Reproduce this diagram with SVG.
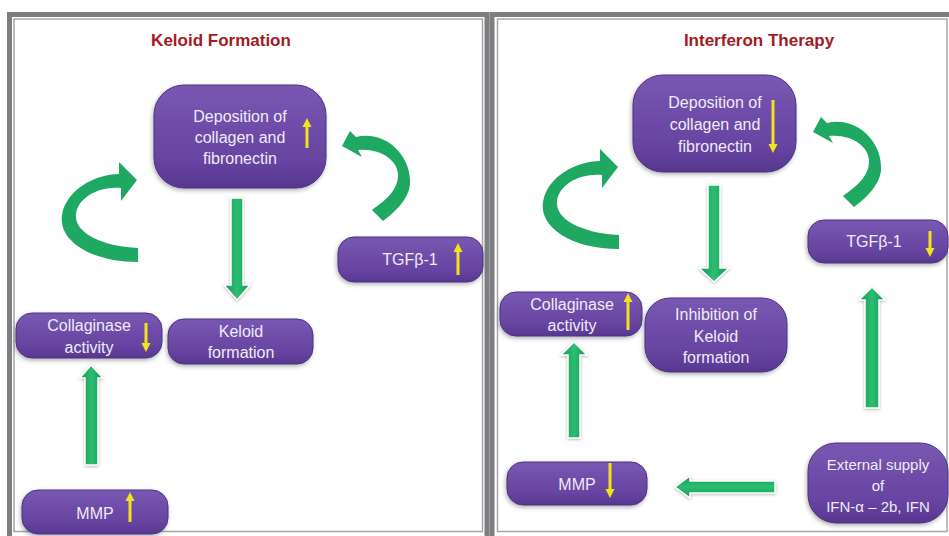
<svg xmlns="http://www.w3.org/2000/svg" width="949" height="536" viewBox="0 0 949 536">
<defs>
<linearGradient id="purp" x1="0" y1="0" x2="0" y2="1">
<stop offset="0" stop-color="#7858b2"/>
<stop offset="0.75" stop-color="#6643a0"/>
<stop offset="1" stop-color="#563790"/>
</linearGradient>
<linearGradient id="grnV" x1="0" y1="0" x2="1" y2="0">
<stop offset="0" stop-color="#14985a"/>
<stop offset="0.5" stop-color="#2cbd70"/>
<stop offset="1" stop-color="#14985a"/>
</linearGradient>
<linearGradient id="grnH" x1="0" y1="0" x2="0" y2="1">
<stop offset="0" stop-color="#14985a"/>
<stop offset="0.5" stop-color="#2cbd70"/>
<stop offset="1" stop-color="#14985a"/>
</linearGradient>
<filter id="sh" x="-20%" y="-20%" width="140%" height="150%">
<feDropShadow dx="-1" dy="2" stdDeviation="2" flood-color="#555" flood-opacity="0.45"/>
</filter>
<filter id="glow" x="-40%" y="-20%" width="180%" height="140%">
<feDropShadow dx="0" dy="1" stdDeviation="1.5" flood-color="#888" flood-opacity="0.6"/>
</filter>
<path id="curlL" d="M138,262 C90,262 58,240 62,215 C66,190 95,174 119,174 L119,162 L137,180 L121,201 L121,188 C98,186 78,198 76,214 C74,232 100,246 138,248 Z"/>
<path id="curlR" d="M350,131 L356,137 C385,130 412,155 410,185 C408,200 395,212 383,221 L372,210 C386,200 398,190 398,175 C398,160 380,148 358,150 L362,157 L342,146 Z"/>
</defs>
<style>
.frame{fill:none;stroke:#7d7e80;stroke-width:5}
.inner{fill:none;stroke:#a6a6a8;stroke-width:1.5}
.title{font-family:"Liberation Sans",Arial,sans-serif;font-weight:bold;font-size:17px;fill:#a11b22;text-anchor:middle}
.box{fill:url(#purp);stroke:#4e3184;stroke-width:1;filter:url(#sh)}
.lbl{font-family:"Liberation Sans",Arial,sans-serif;font-size:16px;fill:#efeaf6;text-anchor:middle}
.lbl2{font-family:"Liberation Sans",Arial,sans-serif;font-size:15px;fill:#efeaf6;text-anchor:middle}
.ya{fill:#f2e21c}
.gv{fill:url(#grnV);stroke:#ffffff;stroke-width:1.5;filter:url(#glow)}
.gh{fill:url(#grnH);stroke:#ffffff;stroke-width:1.5;filter:url(#glow)}
.curl{fill:#1ea862}
</style>
<rect x="0" y="0" width="949" height="536" fill="#ffffff"/>
<!-- panels -->
<g id="panel-left">
<rect x="9.5" y="14.5" width="477.5" height="540" class="frame"/>
<rect x="14" y="19" width="468.5" height="512.5" class="inner"/>
<text x="221" y="46" class="title">Keloid Formation</text>
</g>
<g id="panel-right">
<rect x="492" y="14.5" width="462" height="540" class="frame"/>
<rect x="497.5" y="19" width="449.5" height="512.5" class="inner"/>
<text x="759" y="46" class="title">Interferon Therapy</text>
</g>
<!-- connectors -->
<g id="connectors">
<use href="#curlL" class="curl"/>
<use href="#curlR" class="curl"/>
<use href="#curlL" class="curl" transform="translate(481,-13)"/>
<use href="#curlR" class="curl" transform="translate(471,-14)"/>
<polygon class="gv" points="231,198 243,198 243,285 250,285 237,300 224,285 231,285"/>
<polygon class="gv" points="91,365 103,378 98,378 98,465 85,465 85,378 80,378"/>
<polygon class="gv" points="708,185 720,185 720,268 729,268 714,282 699,268 708,268"/>
<polygon class="gv" points="574,342 587,355 580,355 580,438 568,438 568,355 561,355"/>
<polygon class="gv" points="872,287 885,300 879,300 879,408 865,408 865,300 859,300"/>
<polygon class="gh" points="675,487 690,476 690,481 775,481 775,493 690,493 690,498"/>
</g>
<!-- left panel nodes -->
<g id="l-deposition">
<rect x="154" y="85" width="172" height="103" rx="30" class="box"/>
<text x="240" y="122" class="lbl">Deposition of</text>
<text x="240" y="143" class="lbl">collagen and</text>
<text x="240" y="164" class="lbl">fibronectin</text>
<polygon class="ya" points="307,118 311.5,127 308.5,127 308.5,148 305.5,148 305.5,127 302.5,127"/>
</g>
<g id="l-tgf">
<rect x="338" y="237" width="145" height="45" rx="16" class="box"/>
<text x="410" y="265" class="lbl">TGFβ-1</text>
<polygon class="ya" points="458,243 462.5,252 459.5,252 459.5,275 456.5,275 456.5,252 453.5,252"/>
</g>
<g id="l-collagenase">
<rect x="16" y="313" width="146" height="45" rx="16" class="box"/>
<text x="89" y="331" class="lbl">Collaginase</text>
<text x="89" y="353" class="lbl">activity</text>
<polygon class="ya" points="146,352 150.5,343 147.5,343 147.5,323 144.5,323 144.5,343 141.5,343"/>
</g>
<g id="l-keloid">
<rect x="168" y="319" width="145" height="45" rx="16" class="box"/>
<text x="241" y="337" class="lbl">Keloid</text>
<text x="241" y="358" class="lbl">formation</text>
</g>
<g id="l-mmp">
<rect x="22" y="490" width="146" height="44" rx="16" class="box"/>
<text x="95" y="519" class="lbl">MMP</text>
<polygon class="ya" points="130,492 134.5,501 131.5,501 131.5,522 128.5,522 128.5,501 125.5,501"/>
</g>
<!-- right panel nodes -->
<g id="r-deposition">
<rect x="633" y="75" width="163" height="97" rx="30" class="box"/>
<text x="715" y="108" class="lbl">Deposition of</text>
<text x="715" y="130" class="lbl">collagen and</text>
<text x="715" y="152" class="lbl">fibronectin</text>
<polygon class="ya" points="773,153 777.5,144 774.5,144 774.5,100 771.5,100 771.5,144 768.5,144"/>
</g>
<g id="r-tgf">
<rect x="808" y="220" width="140" height="43" rx="16" class="box"/>
<text x="874" y="247" class="lbl">TGFβ-1</text>
<polygon class="ya" points="930,257 934.5,248 931.5,248 931.5,231 928.5,231 928.5,248 925.5,248"/>
</g>
<g id="r-collagenase">
<rect x="500" y="292" width="142" height="44" rx="16" class="box"/>
<text x="572" y="310" class="lbl">Collaginase</text>
<text x="572" y="331" class="lbl">activity</text>
<polygon class="ya" points="628,293 632.5,302 629.5,302 629.5,330 626.5,330 626.5,302 623.5,302"/>
</g>
<g id="r-inhibition">
<rect x="645" y="298" width="142" height="74" rx="25" class="box"/>
<text x="716" y="320" class="lbl">Inhibition of</text>
<text x="716" y="342" class="lbl">Keloid</text>
<text x="716" y="363" class="lbl">formation</text>
</g>
<g id="r-mmp">
<rect x="507" y="462" width="140" height="43" rx="16" class="box"/>
<text x="577" y="490" class="lbl">MMP</text>
<polygon class="ya" points="610,498 614.5,489 611.5,489 611.5,463 608.5,463 608.5,489 605.5,489"/>
</g>
<g id="r-external">
<rect x="808" y="443" width="140" height="80" rx="28" class="box"/>
<text x="878" y="470" class="lbl2">External supply</text>
<text x="878" y="491" class="lbl2">of</text>
<text x="878" y="512" class="lbl2">IFN-α – 2b, IFN</text>
</g>
</svg>
